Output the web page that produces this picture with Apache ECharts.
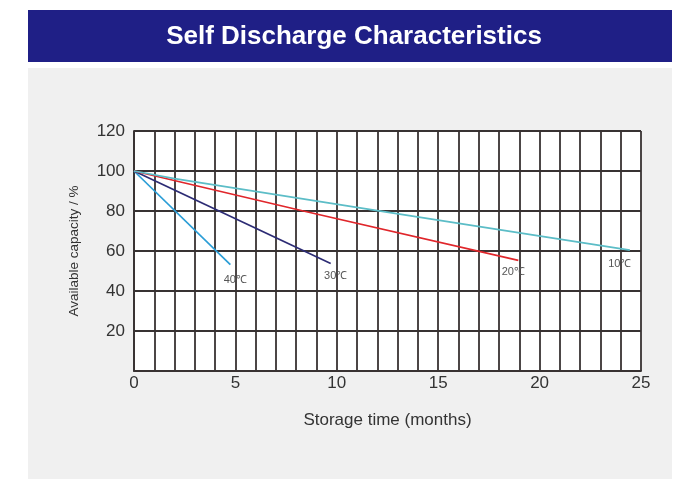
<!DOCTYPE html>
<html>
<head>
<meta charset="utf-8">
<script src="https://cdn.jsdelivr.net/npm/echarts@6/dist/echarts.min.js"></script>
<style>
  html, body { margin: 0; padding: 0; background: #fff; }
  #main { width: 687px; height: 479px; }
</style>
</head>
<body>
<div id="main"></div>
<script>
// readings from the picture: [month, capacity %]
var line40 = [[0, 100], [4.75, 53.2]];
var line30 = [[0, 100], [9.7, 53.8]];
var line20 = [[0, 100], [8.35, 80], [18.95, 55.3]];
var line10 = [[0, 100], [2, 96.2], [12, 80.2], [24.45, 60.4]];
var seriesNames = ["40℃", "30℃", "20℃", "10℃"];
var seriesColors = ["#2a9dd6", "#2c2b74", "#e0262b", "#5cbdc7"];
var labelOffsets = [[5, 15], [5, 13], [-5, 12], [-10, 14]];

var gridColor = "#383232";

function makeSeries(data, i) {
  var pts = data.map(function (p, j) {
    if (j < data.length - 1) return p;
    return {
      value: p,
      label: {
        show: true,
        position: "inside",
        offset: labelOffsets[i],
        formatter: seriesNames[i],
        color: "#555",
        fontSize: 11,
        fontFamily: "Liberation Sans"
      }
    };
  });
  return {
    name: seriesNames[i],
    type: "line",
    data: pts,
    symbol: "circle",
    symbolSize: 0.1,
    showSymbol: true,
    silent: true,
    lineStyle: { color: seriesColors[i], width: 1.7 },
    itemStyle: { color: seriesColors[i] },
    z: 5
  };
}

var chartDom = document.getElementById("main");
var myChart = echarts.init(chartDom);
var option;

option = {
  animation: false,
  textStyle: { fontFamily: "Liberation Sans" },
  graphic: [
    { type: "rect", shape: { x: 28, y: 68, width: 644, height: 411 }, style: { fill: "#f0f0f0" }, z: -10 },
    { type: "rect", shape: { x: 28, y: 10, width: 644, height: 52 }, style: { fill: "#1f1f86" }, z: -10 }
  ],
  title: {
    text: "Self Discharge Characteristics",
    left: 349,
    top: 19,
    textAlign: "center",
    textStyle: { color: "#fff", fontSize: 26, fontWeight: "bold", fontFamily: "Liberation Sans" }
  },
  grid: {
    left: 134,
    top: 131,
    right: 46,
    bottom: 108,
    show: true,
    backgroundColor: "#fff",
    borderWidth: 0
  },
  xAxis: {
    type: "value",
    min: 0,
    max: 25,
    interval: 5,
    name: "Storage time (months)",
    nameLocation: "middle",
    nameGap: 41,
    nameTextStyle: { color: "#333", fontSize: 17 },
    axisLine: { lineStyle: { color: gridColor, width: 1.8 } },
    axisTick: { show: false },
    axisLabel: { color: "#333", fontSize: 17, margin: 4 },
    splitLine: { show: true, lineStyle: { color: gridColor, width: 1.8 } },
    minorTick: { show: false, splitNumber: 5 },
    minorSplitLine: { show: true, lineStyle: { color: gridColor, width: 1.8 } }
  },
  yAxis: {
    type: "value",
    min: 0,
    max: 120,
    interval: 20,
    name: "Available capacity / %",
    nameLocation: "middle",
    nameGap: 53,
    nameTextStyle: { color: "#333", fontSize: 13.5 },
    axisLine: { show: true, lineStyle: { color: gridColor, width: 1.8 } },
    axisTick: { show: false },
    axisLabel: {
      color: "#333",
      fontSize: 17,
      margin: 9,
      formatter: function (v) { return v === 0 ? "" : v; }
    },
    splitLine: { show: true, lineStyle: { color: gridColor, width: 1.8 } }
  },
  series: [line40, line30, line20, line10].map(makeSeries)
};
option && myChart.setOption(option);
</script>
</body>
</html>
